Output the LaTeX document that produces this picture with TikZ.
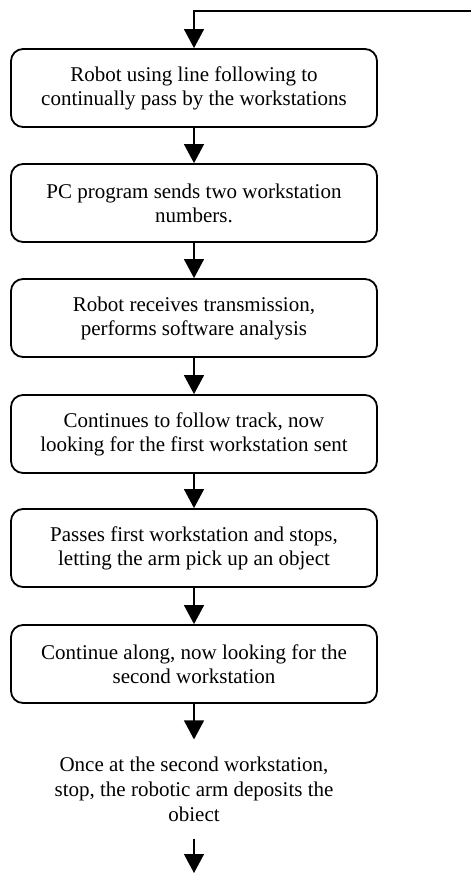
\documentclass[tikz,border=0pt]{standalone}
\usepackage{fontspec}
\setmainfont{Liberation Serif}
\usetikzlibrary{arrows.meta}
\begin{document}
\begin{tikzpicture}[x=1pt, y=-1pt,
        stepbox/.style={draw, line width=1.8pt, rounded corners=12pt, minimum width=366pt, minimum height=78pt, align=center, font=\fontsize{21}{24}\selectfont},
        steptext/.style={align=center, inner sep=17pt, font=\fontsize{21}{25}\selectfont},
        flow/.style={line width=1.3pt, -{Triangle[width=20pt, length=19pt]}}]
        \useasboundingbox (0, 0) rectangle (471, 873);

        \node[stepbox] (s1) at (194, 88) {Robot using line following to\\continually pass by the workstations};
        \node[stepbox] (s2) at (194, 203) {PC program sends two workstation\\numbers.};
        \node[stepbox] (s3) at (194, 318) {Robot receives transmission,\\performs software analysis};
        \node[stepbox] (s4) at (194, 434) {Continues to follow track, now\\looking for the first workstation sent};
        \node[stepbox] (s5) at (194, 548) {Passes first workstation and stops,\\letting the arm pick up an object};
        \node[stepbox] (s6) at (194, 664) {Continue along, now looking for the\\second workstation};
        \node[steptext] (s7) at (194, 789) {Once at the second workstation,\\stop, the robotic arm deposits the\\obiect};

        \coordinate (loop) at (471, 11);
        \coordinate (out) at (194, 873);

        \draw [flow] (loop) -| (s1);
        \draw [flow] (s1) -- (s2);
        \draw [flow] (s2) -- (s3);
        \draw [flow] (s3) -- (s4);
        \draw [flow] (s4) -- (s5);
        \draw [flow] (s5) -- (s6);
        \draw [flow] (s6) -- (s7);
        \draw [flow] (s7) -- (out);
    \end{tikzpicture}
\end{document}
